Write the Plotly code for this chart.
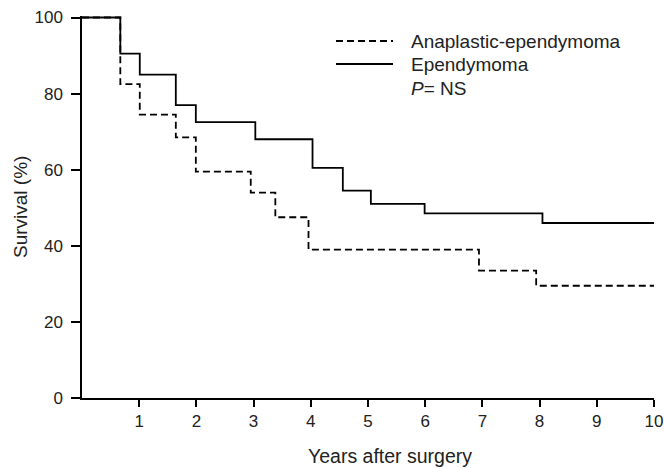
import plotly.graph_objects as go

# ---- data ----
epen_years = [0, 0.67, 1.01, 1.64, 1.99, 3.03, 4.03, 4.56, 5.05, 5.99, 8.05, 10]
epen_surv = [100, 90.5, 85, 77, 72.5, 68, 60.5, 54.5, 51, 48.5, 46, 46]

anap_years = [0, 0.67, 1.01, 1.64, 1.99, 2.95, 3.38, 3.96, 6.94, 7.94, 10]
anap_surv = [100, 82.5, 74.5, 68.5, 59.5, 54, 47.5, 39, 33.5, 29.5, 29.5]

x_ticks = [1, 2, 3, 4, 5, 6, 7, 8, 9, 10]
y_ticks = [0, 20, 40, 60, 80, 100]

series_names = ["Anaplastic-ependymoma", "Ependymoma"]
p_text = "<i>P</i>= NS"

# ---- layout geometry ----
W, H = 664, 468
L, R, T, B = 82, 10, 16, 70
PW, PH = W - L - R, H - T - B


def px(xp):
    return (xp - L) / PW


def py(yp):
    return (H - B - yp) / PH


FONT = "Liberation Sans, Arial, Helvetica, sans-serif"
TXT = "#222222"

fig = go.Figure()
fig.add_trace(go.Scatter(x=anap_years, y=anap_surv, mode="lines", line_shape="hv",
                         line=dict(color="black", width=1.8, dash="7px,4px"),
                         name=series_names[0], showlegend=False))
fig.add_trace(go.Scatter(x=epen_years, y=epen_surv, mode="lines", line_shape="hv",
                         line=dict(color="black", width=1.8),
                         name=series_names[1], showlegend=False))

# custom legend
fig.add_shape(type="line", xref="paper", yref="paper", x0=px(336), x1=px(393),
              y0=py(41), y1=py(41), line=dict(color="black", width=1.8, dash="7px,4px"))
fig.add_shape(type="line", xref="paper", yref="paper", x0=px(336), x1=px(393),
              y0=py(64), y1=py(64), line=dict(color="black", width=1.8))
for txt, yy in [(series_names[0], 41), (series_names[1], 64), (p_text, 89)]:
    fig.add_annotation(text=txt, xref="paper", yref="paper", x=px(409), y=py(yy),
                       xanchor="left", yanchor="middle", showarrow=False,
                       font=dict(family=FONT, size=19, color=TXT))

# axis titles
fig.add_annotation(text="Years after surgery", xref="paper", yref="paper",
                   x=px(390), y=py(456), xanchor="center", yanchor="middle",
                   showarrow=False, font=dict(family=FONT, size=19.5, color=TXT))
fig.add_annotation(text="Survival (%)", xref="paper", yref="paper",
                   x=px(20), y=py(207), xanchor="center", yanchor="middle",
                   textangle=-90, showarrow=False,
                   font=dict(family=FONT, size=19, color=TXT))

fig.update_layout(
    width=W, height=H,
    margin=dict(l=L, r=R, t=T, b=B, pad=0, autoexpand=False),
    paper_bgcolor="white", plot_bgcolor="white",
    font=dict(family=FONT, size=16, color=TXT),
    xaxis=dict(range=[0, 10], tickvals=x_ticks, showgrid=False, zeroline=False,
               showline=True, linecolor="black", linewidth=1.5, automargin=False,
               ticks="outside", ticklen=7, tickwidth=1.5, tickcolor="black",
               tickfont=dict(family=FONT, size=17, color=TXT)),
    yaxis=dict(range=[0, 100.4], tickvals=y_ticks, showgrid=False, zeroline=False,
               showline=True, linecolor="black", linewidth=1.5, automargin=False,
               ticks="outside", ticklen=9, tickwidth=1.5, tickcolor="black",
               ticklabelstandoff=5,
               tickfont=dict(family=FONT, size=17, color=TXT)),
)

fig.write_html("out.html")
